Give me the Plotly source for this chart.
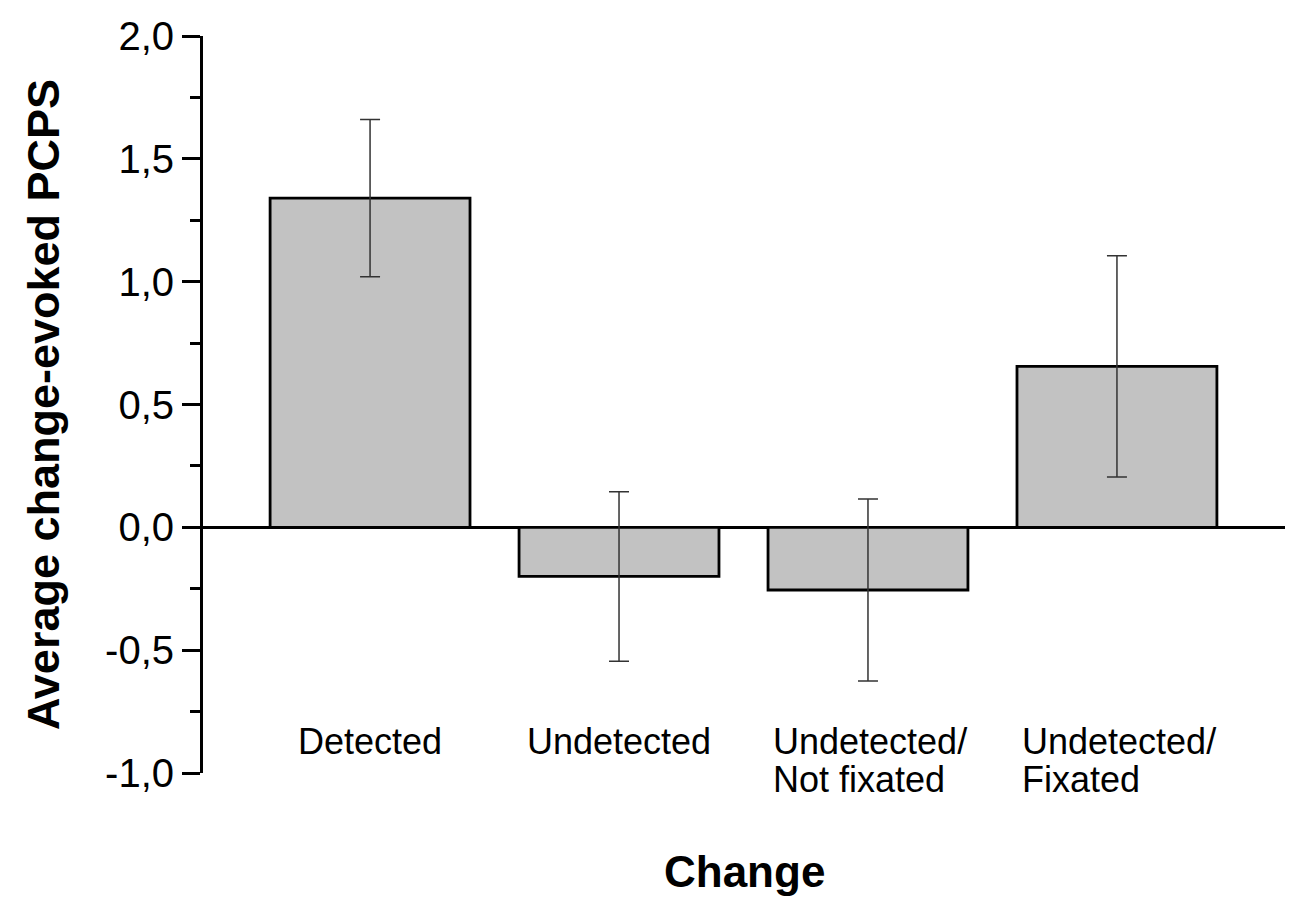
import plotly.graph_objects as go

categories = ["Detected", "Undetected", "Undetected/<br>Not fixated", "Undetected/<br>Fixated"]
means = [1.34, -0.20, -0.255, 0.655]
errors = [0.32, 0.345, 0.37, 0.45]
y_ticks = [-1.0, -0.5, 0.0, 0.5, 1.0, 1.5, 2.0]
y_tick_labels = ["-1,0", "-0,5", "0,0", "0,5", "1,0", "1,5", "2,0"]

FONT = "Liberation Sans, Arial, sans-serif"

fig = go.Figure()
fig.add_trace(go.Bar(
    x=list(range(len(categories))),
    y=means,
    width=0.803,
    marker=dict(color="#c2c2c2", line=dict(color="black", width=2.8)),
    error_y=dict(type="data", array=errors, visible=True, color="#333333", thickness=1.5, width=10),
    showlegend=False,
))

# category labels (first line centred on the bar, following lines left-aligned with it)
line_w = 0.39
for i, c in enumerate(categories):
    lines = c.split("<br>")
    if len(lines) == 1:
        fig.add_annotation(x=i, y=-0.8, xref="x", yref="y", text=lines[0], showarrow=False,
                           yanchor="top", xanchor="center", yshift=5,
                           font=dict(family=FONT, size=36, color="black"))
    else:
        for k, ln in enumerate(lines):
            fig.add_annotation(x=i - line_w, y=-0.8, xref="x", yref="y", text=ln, showarrow=False,
                               yanchor="top", xanchor="left", yshift=5 - 38 * k,
                               font=dict(family=FONT, size=36, color="black"))

fig.add_annotation(x=0.5, y=-0.005, xref="paper", yref="paper", xanchor="center", yanchor="top",
                   yshift=-68, text="<b>Change</b>", showarrow=False,
                   font=dict(family=FONT, size=44, color="black"))
fig.add_annotation(x=0, y=0.5, xref="paper", yref="paper", xanchor="right", yanchor="middle",
                   xshift=-132, yshift=0, text="<b>Average change-evoked PCPS</b>", showarrow=False,
                   textangle=-90, font=dict(family=FONT, size=45, color="black"))

fig.update_layout(
    width=1294, height=899,
    margin=dict(l=203, r=9, t=36, b=126),
    paper_bgcolor="white", plot_bgcolor="white",
    bargap=0.2,
    font=dict(family=FONT, color="black"),
)
fig.update_xaxes(range=[-0.671, 3.675], showticklabels=False, showline=False, showgrid=False,
                 zeroline=False, ticks="")
fig.update_yaxes(range=[-1.0, 2.0], tickvals=y_ticks, ticktext=y_tick_labels,
                 showline=True, linecolor="black", linewidth=3,
                 ticks="outside", ticklen=18, tickwidth=3, tickcolor="black",
                 minor=dict(dtick=0.25, ticks="outside", ticklen=10, tickwidth=3, tickcolor="black"),
                 showgrid=False, zeroline=True, zerolinecolor="black", zerolinewidth=3,
                 tickfont=dict(family=FONT, size=40, color="black"))

fig.write_html("out.html")
